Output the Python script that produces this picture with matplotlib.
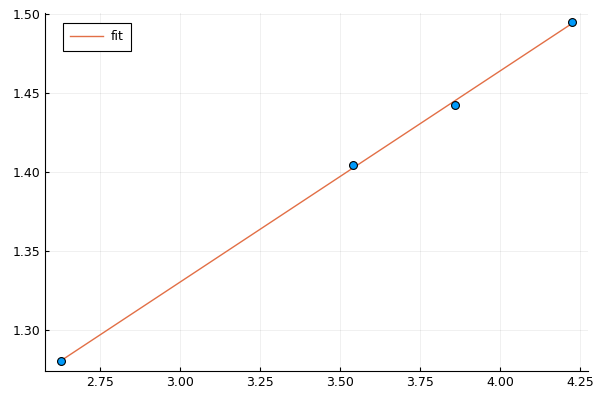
import numpy as np
import matplotlib.pyplot as plt

# data points
x = [2.628, 3.540, 3.859, 4.226]
y = [1.2808, 1.4044, 1.4428, 1.4954]

# linear fit
coef = np.polyfit(x, y, 1)
xf = np.array([min(x), max(x)])
yf = np.polyval(coef, xf)

fig, ax = plt.subplots(figsize=(6, 4), dpi=100)
fig.subplots_adjust(left=0.075, right=0.98, top=0.968, bottom=0.073)

ax.plot(xf, yf, color="#E26F46", lw=1, label="fit", zorder=2)
ax.scatter(x, y, s=32, color="#009AFA", edgecolor="black", linewidth=0.8, zorder=3)

ax.set_xlim(2.578, 4.275)
ax.set_ylim(1.2745, 1.501)
ax.set_xticks([2.75, 3.00, 3.25, 3.50, 3.75, 4.00, 4.25])
ax.set_yticks([1.30, 1.35, 1.40, 1.45, 1.50])
ax.xaxis.set_major_formatter(plt.FormatStrFormatter("%.2f"))
ax.yaxis.set_major_formatter(plt.FormatStrFormatter("%.2f"))

ax.grid(True, color="black", alpha=0.07, lw=0.6)
ax.spines["top"].set_visible(False)
ax.spines["right"].set_visible(False)
ax.tick_params(direction="in", length=3, labelsize=9)

leg = ax.legend(loc="upper left", bbox_to_anchor=(0.033, 0.972), borderaxespad=0,
                fontsize=9, fancybox=False, framealpha=1,
                handlelength=2.6, handletextpad=0.6, borderpad=0.6)
leg.get_frame().set_edgecolor("black")
leg.get_frame().set_linewidth(0.8)

plt.savefig("out.png")
